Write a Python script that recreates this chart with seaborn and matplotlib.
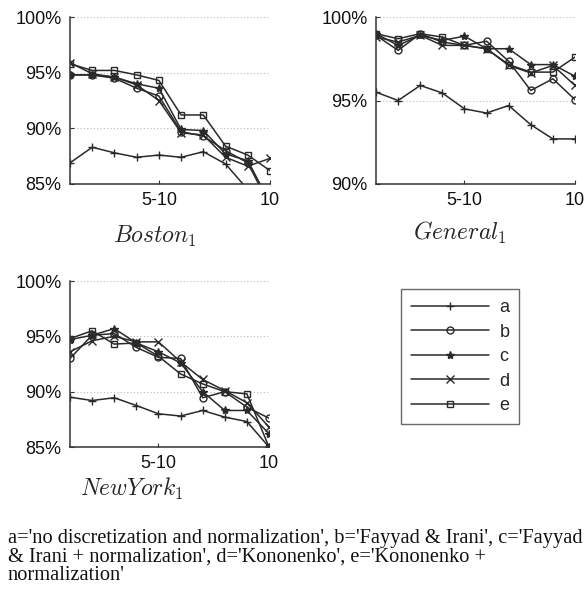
import matplotlib
matplotlib.use("Agg")
import matplotlib.pyplot as plt
from matplotlib.lines import Line2D
import seaborn as sns
import numpy as np

sns.set_theme(style="white")
plt.rcParams['font.family'] = ['Liberation Sans', 'DejaVu Sans']
plt.rcParams['mathtext.fontset'] = 'cm'

x = list(range(1, 11))
series_names = ['a', 'b', 'c', 'd', 'e']
markers = {'a': '+', 'b': 'o', 'c': '*', 'd': 'x', 'e': 's'}

boston = {
    'a': [86.9, 88.3, 87.8, 87.4, 87.6, 87.4, 87.9, 86.8, 84.5, 83.5],
    'b': [94.8, 94.8, 94.5, 93.6, 92.9, 89.7, 89.3, 88.0, 86.9, 83.0],
    'c': [94.8, 94.8, 94.6, 94.0, 93.6, 89.9, 89.8, 87.7, 87.1, 83.3],
    'd': [95.9, 94.9, 94.6, 93.9, 92.5, 89.6, 89.4, 87.4, 86.6, 87.3],
    'e': [95.8, 95.2, 95.2, 94.8, 94.3, 91.2, 91.2, 88.4, 87.6, 86.2],
}
general = {
    'a': [95.5, 95.0, 95.9, 95.45, 94.5, 94.25, 94.7, 93.55, 92.7, 92.7],
    'b': [98.9, 98.0, 99.0, 98.5, 98.3, 98.55, 97.35, 95.6, 96.3, 95.05],
    'c': [99.0, 98.3, 98.9, 98.6, 98.85, 98.1, 98.1, 97.15, 97.15, 96.45],
    'd': [98.8, 98.5, 98.9, 98.3, 98.3, 98.1, 97.1, 96.65, 97.1, 95.9],
    'e': [99.0, 98.7, 99.0, 98.8, 98.3, 98.1, 97.15, 96.7, 96.7, 97.6],
}
newyork = {
    'a': [89.5, 89.2, 89.45, 88.75, 88.0, 87.8, 88.3, 87.7, 87.3, 85.0],
    'b': [93.0, 95.1, 95.25, 94.0, 93.1, 93.0, 89.45, 90.0, 88.6, 87.6],
    'c': [94.7, 95.1, 95.7, 94.4, 93.6, 92.6, 90.0, 88.3, 88.3, 86.2],
    'd': [93.6, 94.6, 95.0, 94.5, 94.5, 92.7, 91.1, 90.1, 89.0, 86.8],
    'e': [94.8, 95.5, 94.3, 94.4, 93.2, 91.6, 90.7, 90.0, 89.8, 85.0],
}

xtick_pos = [5, 10]
xtick_labels = ['5-10', '10']

caption_lines = [
    "a='no discretization and normalization', b='Fayyad & Irani', c='Fayyad",
    "& Irani + normalization', d='Kononenko', e='Kononenko +",
    "normalization'",
]

W, H = 586, 592
fig = plt.figure(figsize=(W / 100, H / 100), dpi=100)
fig.patch.set_facecolor('white')

def rect(l, t, r, b):
    return [l / W, 1 - b / H, (r - l) / W, (b - t) / H]

col = '#2a2a2a'

def style_kw(s):
    m = markers[s]
    kw = dict(color=col, linewidth=1.1, marker=m, markersize=5.5,
              markeredgecolor=col, markeredgewidth=1.0)
    if m in ('o', 's'):
        kw['markerfacecolor'] = 'none'
        kw['markersize'] = 5
    elif m == '*':
        kw['markerfacecolor'] = col
        kw['markersize'] = 6
    return kw

def panel(r, data, ylo, yticks, title, tx, ty):
    ax = fig.add_axes(r)
    for s in series_names:
        sns.lineplot(x=x, y=data[s], ax=ax, legend=False, **style_kw(s))
    ax.set_xlim(1, 10)
    ax.set_ylim(ylo, 100)
    ax.set_yticks(yticks)
    ax.set_yticklabels([f"{v}%" for v in yticks], fontsize=13)
    ax.set_xticks(xtick_pos)
    ax.set_xticklabels(xtick_labels, fontsize=13)
    for v in yticks[1:]:
        ax.axhline(v, color='#bbbbbb', linestyle=(0, (1, 2)), linewidth=0.8, zorder=0)
    for sp in ['top', 'right']:
        ax.spines[sp].set_visible(False)
    for sp in ['left', 'bottom']:
        ax.spines[sp].set_color('#333333')
        ax.spines[sp].set_linewidth(1.1)
    ax.tick_params(direction='in', length=3, width=0.8, colors='#333333',
                   labelcolor='#111111', pad=6, left=True, bottom=True)
    ax.set_facecolor('white')
    fig.text(tx / W, 1 - ty / H, title, fontsize=17, ha='center', va='center')
    return ax

panel(rect(70, 17, 270, 184), boston, 85, [85, 90, 95, 100], r'$Boston_1$', 155, 236)
panel(rect(376, 17, 575, 184), general, 90, [90, 95, 100], r'$General_1$', 460, 233)
panel(rect(70, 281, 269, 447), newyork, 85, [85, 90, 95, 100], r'$NewYork_1$', 132, 489)

handles = [Line2D([0], [0], **style_kw(s)) for s in series_names]
leg = fig.legend(handles, series_names, loc='upper left',
                 bbox_to_anchor=(401 / W, 1 - 289 / H), frameon=True,
                 fancybox=False, edgecolor='#444444', fontsize=13,
                 handlelength=4.3, labelspacing=0.42, borderpad=0.55,
                 handletextpad=0.6, borderaxespad=0)
leg.get_frame().set_linewidth(1.0)

for line, base in zip(caption_lines, [543, 562, 580]):
    fig.text(8 / W, 1 - base / H, line, fontsize=14.7, family='Liberation Serif',
             ha='left', va='baseline', color='#111111')

fig.savefig('out.png', dpi=100, facecolor='white')
